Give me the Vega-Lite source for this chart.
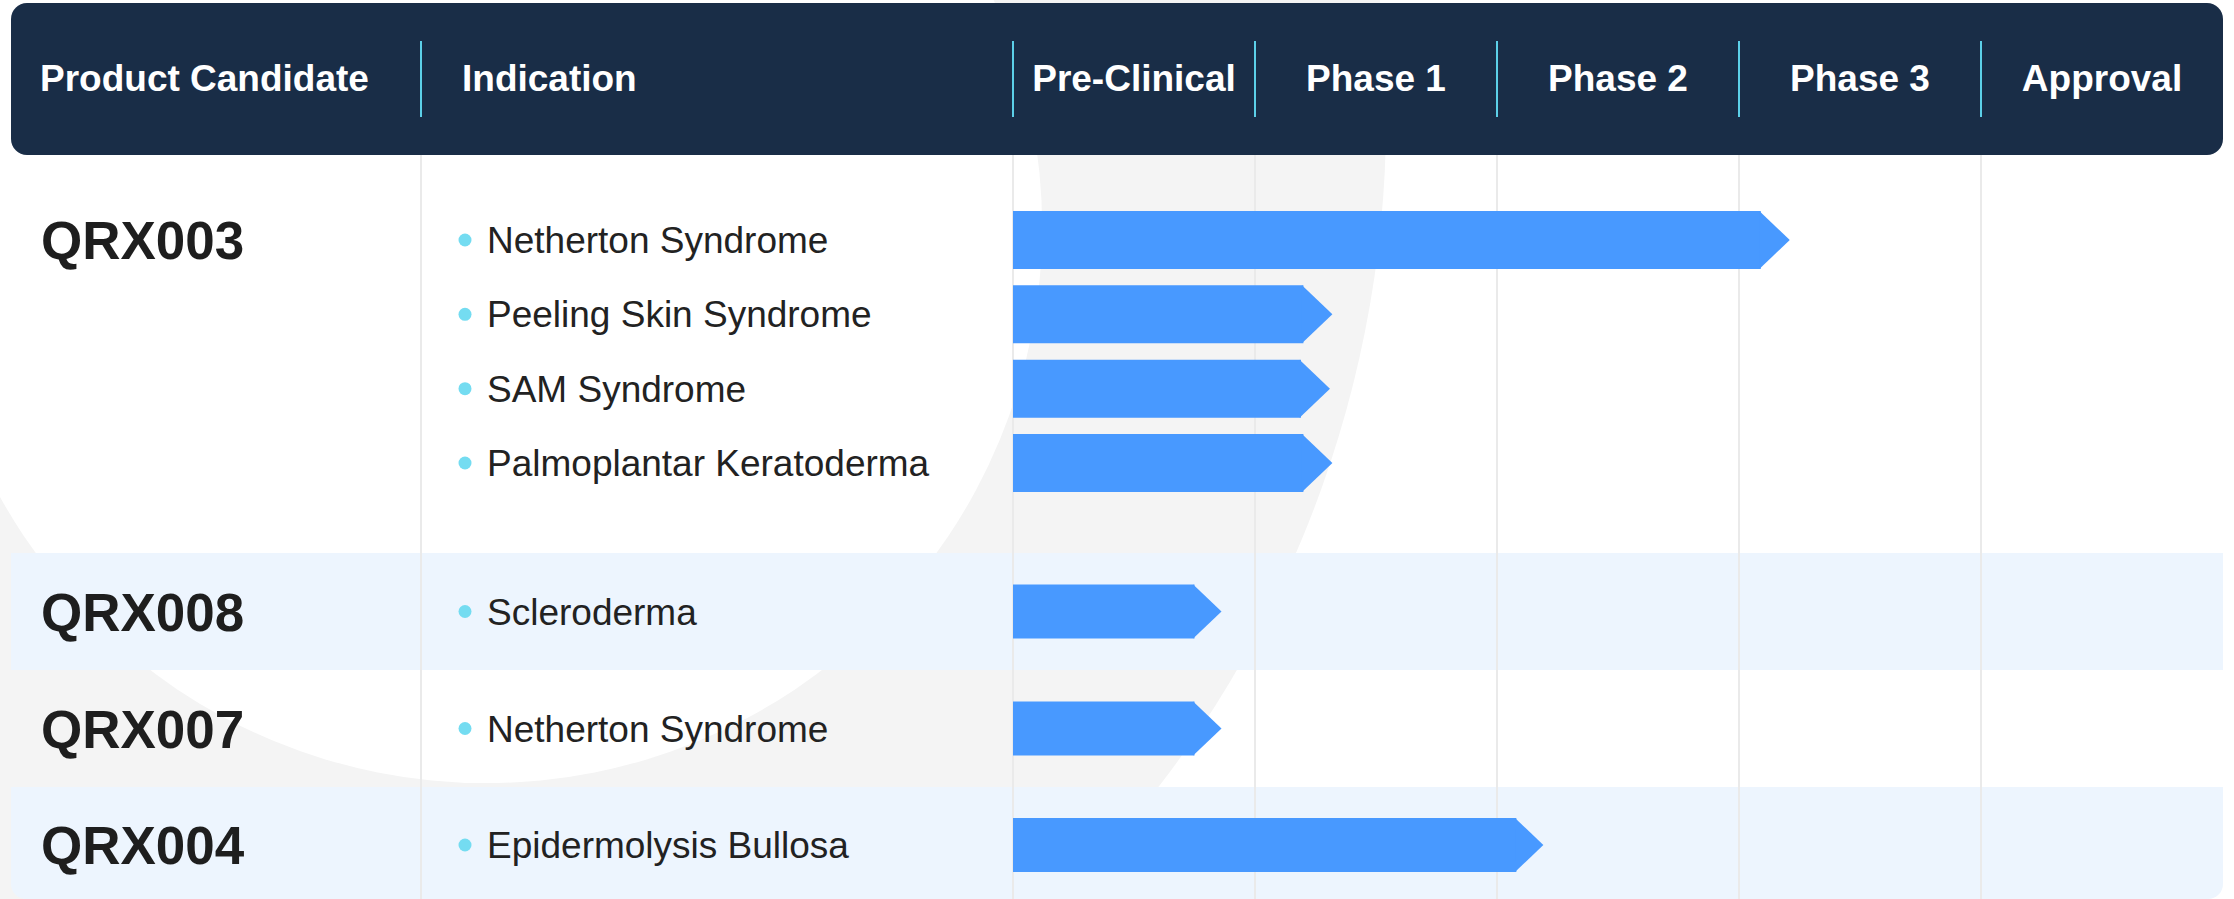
{
  "$schema": "https://vega.github.io/schema/vega-lite/v6.json",
  "width": 2234,
  "height": 899,
  "autosize": {"type": "none"},
  "padding": 0,
  "background": "#ffffff",
  "config": {
    "view": {"stroke": null},
    "axis": {"domain": false, "ticks": false, "labels": false, "grid": false, "title": null},
    "scale": {"continuousPadding": 0},
    "text": {"font": "Liberation Sans"}
  },
  "datasets": {
    "columns": [
      {"column": "Product Candidate", "start": -2},
      {"column": "Indication", "start": -1},
      {"column": "Pre-Clinical", "start": 0},
      {"column": "Phase 1", "start": 1},
      {"column": "Phase 2", "start": 2},
      {"column": "Phase 3", "start": 3},
      {"column": "Approval", "start": 4}
    ],
    "products": [
      {"product": "QRX003", "order": 1, "first": 1, "from": 0.5, "to": 4.5},
      {"product": "QRX008", "order": 2, "first": 5, "from": 4.5, "to": 5.5},
      {"product": "QRX007", "order": 3, "first": 6, "from": 5.5, "to": 6.5},
      {"product": "QRX004", "order": 4, "first": 7, "from": 6.5, "to": 7.5}
    ],
    "programs": [
      {"product": "QRX003", "indication": "Netherton Syndrome", "row": 1, "progress": 3.09},
      {"product": "QRX003", "indication": "Peeling Skin Syndrome", "row": 2, "progress": 1.2},
      {"product": "QRX003", "indication": "SAM Syndrome", "row": 3, "progress": 1.19},
      {"product": "QRX003", "indication": "Palmoplantar Keratoderma", "row": 4, "progress": 1.2},
      {"product": "QRX008", "indication": "Scleroderma", "row": 5, "progress": 0.75},
      {"product": "QRX007", "indication": "Netherton Syndrome", "row": 6, "progress": 0.75},
      {"product": "QRX004", "indication": "Epidermolysis Bullosa", "row": 7, "progress": 2.08}
    ]
  },
  "layer": [
    {
      "data": {"values": [{"part": "backdrop"}]},
      "mark": {"type": "point", "shape": "circle", "filled": true, "opacity": 1, "color": "#f4f4f4", "size": 4840000, "clip": true},
      "encoding": {
        "x": {"datum": -1.329, "type": "quantitative", "axis": null,
              "scale": {"domain": [-2, -1, 0, 5], "range": [11, 421, 1013, 2223], "zero": false, "nice": false, "padding": 0}},
        "y": {"datum": 0.25, "type": "quantitative", "axis": null,
              "scale": {"domain": [-0.5, 0.5, 1, 4, 4.5, 6.5, 7, 7.5], "range": [3, 155, 240, 463, 553, 787, 845, 899], "zero": false, "nice": false, "padding": 0}}
      }
    },
    {
      "data": {"values": [{"part": "backdrop"}]},
      "mark": {"type": "point", "shape": "circle", "filled": true, "opacity": 1, "color": "#ffffff", "size": 1236544, "clip": true},
      "encoding": {
        "x": {"datum": -0.89, "type": "quantitative", "axis": null},
        "y": {"datum": 0.924, "type": "quantitative", "axis": null}
      }
    },
    {
      "data": {"name": "products"},
      "transform": [{"filter": "datum.order == 2"}],
      "mark": {"type": "rect", "color": "#edf5fe"},
      "encoding": {
        "x": {"datum": -2, "type": "quantitative", "axis": null},
        "x2": {"datum": 5},
        "y": {"field": "from", "type": "quantitative", "axis": null},
        "y2": {"field": "to"}
      }
    },
    {
      "data": {"name": "products"},
      "transform": [{"filter": "datum.order == 4"}],
      "mark": {"type": "rect", "color": "#edf5fe", "cornerRadiusBottomLeft": 15, "cornerRadiusBottomRight": 15},
      "encoding": {
        "x": {"datum": -2, "type": "quantitative", "axis": null},
        "x2": {"datum": 5},
        "y": {"field": "from", "type": "quantitative", "axis": null},
        "y2": {"field": "to"}
      }
    },
    {
      "data": {"name": "columns"},
      "transform": [{"filter": "datum.start > -2"}],
      "mark": {"type": "rule", "color": "#eaeaea", "strokeWidth": 2},
      "encoding": {
        "x": {"field": "start", "type": "quantitative", "axis": null},
        "y": {"datum": 0.5, "type": "quantitative", "axis": null},
        "y2": {"datum": 7.5}
      }
    },
    {
      "data": {"values": [{"part": "header"}]},
      "mark": {"type": "rect", "color": "#192d47", "cornerRadius": 16},
      "encoding": {
        "x": {"datum": -2, "type": "quantitative", "axis": null},
        "x2": {"datum": 5},
        "y": {"datum": -0.5, "type": "quantitative", "axis": null},
        "y2": {"datum": 0.5}
      }
    },
    {
      "data": {"name": "columns"},
      "transform": [{"filter": "datum.start > -2"}],
      "mark": {"type": "rule", "color": "#5cd0e8", "strokeWidth": 2},
      "encoding": {
        "x": {"field": "start", "type": "quantitative", "axis": null},
        "y": {"datum": -0.25, "type": "quantitative", "axis": null},
        "y2": {"datum": 0.25}
      }
    },
    {
      "data": {"name": "columns"},
      "transform": [{"filter": "datum.column == 'Product Candidate'"}],
      "mark": {"type": "text", "font": "Liberation Sans", "align": "left", "baseline": "middle", "dx": 29, "dy": 1, "fontSize": 37, "fontWeight": "bold", "color": "#ffffff"},
      "encoding": {
        "x": {"field": "start", "type": "quantitative", "axis": null},
        "y": {"datum": 0, "type": "quantitative", "axis": null},
        "text": {"field": "column"}
      }
    },
    {
      "data": {"name": "columns"},
      "transform": [{"filter": "datum.column == 'Indication'"}],
      "mark": {"type": "text", "font": "Liberation Sans", "align": "left", "baseline": "middle", "dx": 41, "dy": 1, "fontSize": 37, "fontWeight": "bold", "color": "#ffffff"},
      "encoding": {
        "x": {"field": "start", "type": "quantitative", "axis": null},
        "y": {"datum": 0, "type": "quantitative", "axis": null},
        "text": {"field": "column"}
      }
    },
    {
      "data": {"name": "columns"},
      "transform": [{"filter": "datum.start >= 0"}],
      "mark": {"type": "text", "font": "Liberation Sans", "align": "center", "baseline": "middle", "dx": 121, "dy": 1, "fontSize": 37, "fontWeight": "bold", "color": "#ffffff"},
      "encoding": {
        "x": {"field": "start", "type": "quantitative", "axis": null},
        "y": {"datum": 0, "type": "quantitative", "axis": null},
        "text": {"field": "column"}
      }
    },
    {
      "data": {"name": "programs"},
      "transform": [{"filter": "datum.product == 'QRX003'"}],
      "mark": {"type": "bar", "orient": "horizontal", "height": 58, "color": "#4899ff"},
      "encoding": {
        "x": {"field": "progress", "type": "quantitative", "axis": null},
        "x2": {"datum": 0},
        "y": {"field": "row", "type": "quantitative", "axis": null}
      }
    },
    {
      "data": {"name": "programs"},
      "transform": [{"filter": "datum.product != 'QRX003'"}],
      "mark": {"type": "bar", "orient": "horizontal", "height": 54, "color": "#4899ff"},
      "encoding": {
        "x": {"field": "progress", "type": "quantitative", "axis": null},
        "x2": {"datum": 0},
        "y": {"field": "row", "type": "quantitative", "axis": null}
      }
    },
    {
      "data": {"name": "programs"},
      "transform": [{"filter": "datum.product == 'QRX003'"}],
      "mark": {"type": "point", "shape": "M-0.05,-1L1,0L-0.05,1Z", "filled": true, "opacity": 1, "size": 3364, "color": "#4899ff"},
      "encoding": {
        "x": {"field": "progress", "type": "quantitative", "axis": null},
        "y": {"field": "row", "type": "quantitative", "axis": null}
      }
    },
    {
      "data": {"name": "programs"},
      "transform": [{"filter": "datum.product != 'QRX003'"}],
      "mark": {"type": "point", "shape": "M-0.05,-1L1,0L-0.05,1Z", "filled": true, "opacity": 1, "size": 2916, "color": "#4899ff"},
      "encoding": {
        "x": {"field": "progress", "type": "quantitative", "axis": null},
        "y": {"field": "row", "type": "quantitative", "axis": null}
      }
    },
    {
      "data": {"name": "programs"},
      "mark": {"type": "point", "shape": "circle", "filled": true, "opacity": 1, "size": 169, "color": "#74dcf1", "xOffset": 44},
      "encoding": {
        "x": {"datum": -1, "type": "quantitative", "axis": null},
        "y": {"field": "row", "type": "quantitative", "axis": null}
      }
    },
    {
      "data": {"name": "programs"},
      "mark": {"type": "text", "font": "Liberation Sans", "align": "left", "baseline": "middle", "dx": 66, "dy": 2, "fontSize": 37, "color": "#222222"},
      "encoding": {
        "x": {"datum": -1, "type": "quantitative", "axis": null},
        "y": {"field": "row", "type": "quantitative", "axis": null},
        "text": {"field": "indication"}
      }
    },
    {
      "data": {"name": "products"},
      "mark": {"type": "text", "font": "Liberation Sans", "align": "left", "baseline": "middle", "dx": 30, "dy": 3, "fontSize": 53, "fontWeight": "bold", "color": "#1e1e1e"},
      "encoding": {
        "x": {"datum": -2, "type": "quantitative", "axis": null},
        "y": {"field": "first", "type": "quantitative", "axis": null},
        "text": {"field": "product"}
      }
    }
  ]
}
